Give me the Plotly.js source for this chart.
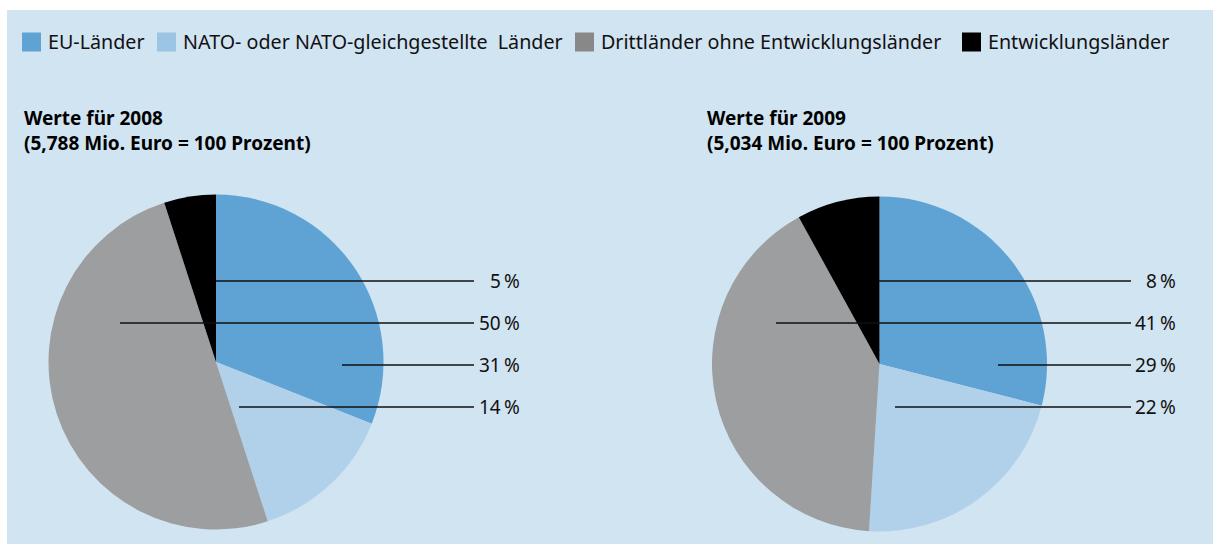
<!DOCTYPE html>
<html>
<head>
<meta charset="utf-8">
<script src="https://cdn.plot.ly/plotly-3.0.1.min.js"></script>
<style>html,body{margin:0;padding:0;background:#fff;}#chart{width:1213px;height:544px;}</style>
</head>
<body>
<div id="chart"></div>
<script>
// ---- data ----
const categories = ['EU-Länder', 'NATO- oder NATO-gleichgestellte\u00a0 Länder', 'Drittländer ohne Entwicklungsländer', 'Entwicklungsländer'];
const values2008 = [31, 14, 50, 5];
const values2009 = [29, 22, 41, 8];
const years = ['2008', '2009'];
const totals = ['5,788', '5,034'];

// ---- styles ----
const sliceColors = ['#5fa3d4', '#b1d1ea', '#9d9e9f', '#000000'];
const legendColors = ['#5fa3d4', '#9cc5e5', '#888888', '#000000'];
const bg = '#d1e4f1';
const W = 1213, H = 544;
const px = x => x / W;
const py = y => 1 - y / H;
const FONT = 'Noto Sans, Open Sans, sans-serif';

// layout geometry (pixels)
const pies = [
  {cx: 216, cy: 362, r: 167.5, titleX: 22, labelRight: 522, lineEnd: 474, lineStarts: [216, 120, 342, 239]},
  {cx: 879.5, cy: 364, r: 167.5, titleX: 705, labelRight: 1178, lineEnd: 1131, lineStarts: [879, 776, 998, 895]}
];
const labelOrder = [3, 2, 0, 1];          // top-to-bottom order of the percentage labels
const labelY = [281, 323, 365, 407];
const legendX = [22, 157, 575, 962];
const legendY = 42, sw = 19;

const allValues = [values2008, values2009];

const data = pies.map((p, i) => ({
  type: 'pie',
  labels: categories,
  values: allValues[i],
  sort: false,
  direction: 'clockwise',
  rotation: 0,
  textinfo: 'none',
  hoverinfo: 'label+percent',
  marker: {colors: sliceColors, line: {width: 0}},
  showlegend: false,
  domain: {x: [px(p.cx - p.r), px(p.cx + p.r)], y: [py(p.cy + p.r), py(p.cy - p.r)]}
}));

const shapes = [
  {type: 'rect', xref: 'paper', yref: 'paper', x0: px(7), x1: 1, y0: 0, y1: py(10), fillcolor: bg, line: {width: 0}, layer: 'below'}
];
const annotations = [];

// legend
categories.forEach((c, k) => {
  shapes.push({type: 'rect', xref: 'paper', yref: 'paper', x0: px(legendX[k]), x1: px(legendX[k] + sw),
    y0: py(legendY + sw / 2), y1: py(legendY - sw / 2), fillcolor: legendColors[k], line: {width: 0}});
  annotations.push({xref: 'paper', yref: 'paper', x: px(legendX[k] + sw + 5), y: py(legendY), xanchor: 'left', yanchor: 'middle',
    text: c, showarrow: false, font: {family: FONT, size: 19.7, color: '#111'}});
});

// titles, leader lines, labels
pies.forEach((p, i) => {
  annotations.push({xref: 'paper', yref: 'paper', x: px(p.titleX), y: py(118), xanchor: 'left', yanchor: 'middle',
    text: '<b>Werte für ' + years[i] + '</b>', showarrow: false, font: {family: FONT, size: 19, color: '#000'}});
  annotations.push({xref: 'paper', yref: 'paper', x: px(p.titleX), y: py(143), xanchor: 'left', yanchor: 'middle',
    text: '<b>(' + totals[i] + ' Mio. Euro = 100 Prozent)</b>', showarrow: false, font: {family: FONT, size: 19, color: '#000'}});
  labelOrder.forEach((k, j) => {
    shapes.push({type: 'line', xref: 'paper', yref: 'paper', x0: px(p.lineStarts[j]), x1: px(p.lineEnd),
      y0: py(labelY[j]), y1: py(labelY[j]), line: {color: '#111', width: 1.4}});
    annotations.push({xref: 'paper', yref: 'paper', x: px(p.labelRight), y: py(labelY[j]), xanchor: 'right', yanchor: 'middle',
      text: allValues[i][k] + '\u2009%', showarrow: false, font: {family: FONT, size: 19, color: '#111'}});
  });
});

const layout = {
  width: W, height: H,
  margin: {l: 0, r: 0, t: 0, b: 0},
  paper_bgcolor: '#ffffff',
  plot_bgcolor: bg,
  showlegend: false,
  shapes: shapes,
  annotations: annotations
};

Plotly.newPlot('chart', data, layout, {displayModeBar: false, staticPlot: true});
</script>
</body>
</html>
